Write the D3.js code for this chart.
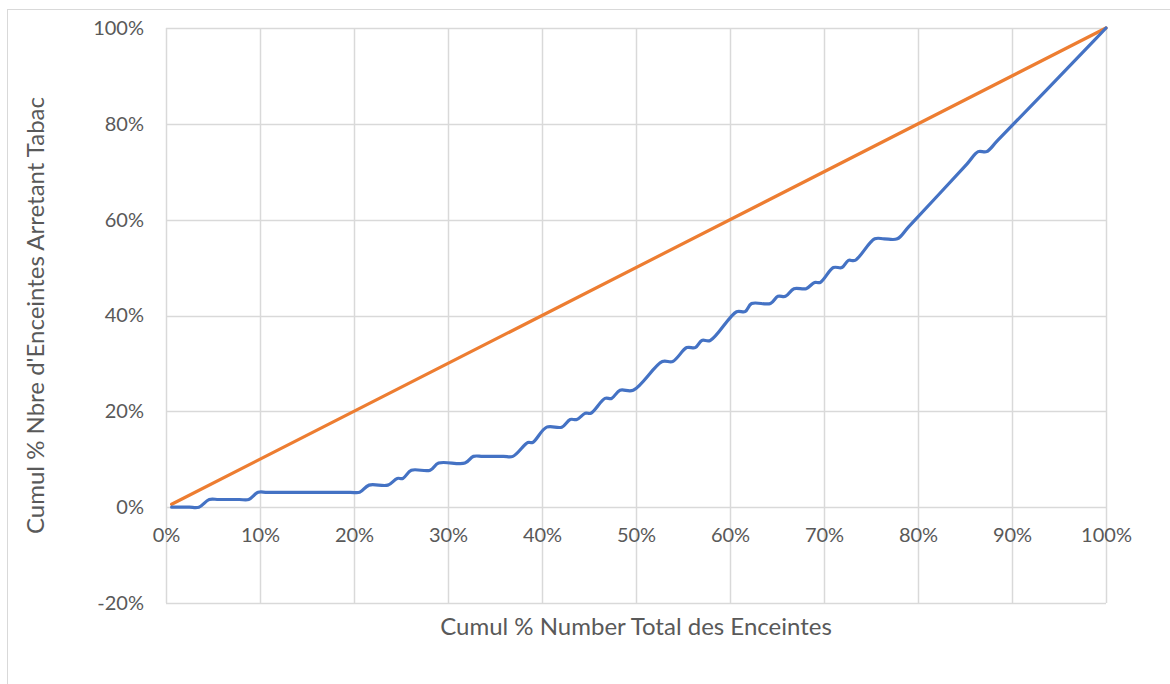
<!DOCTYPE html>
<html><head><meta charset="utf-8">
<script src="https://cdn.jsdelivr.net/npm/d3@7"></script>
<style>html,body{margin:0;padding:0;background:#fff;}svg{display:block;}</style>
</head><body>
<svg id="chart" width="1170" height="684"></svg>
<script>
// Data (percent)
const blueX = [0.6, 1.5, 2.5, 3.5, 4.6, 5.6, 7.8, 8.8, 9.8, 10.8, 19.6, 20.6, 21.6, 23.6, 24.6, 25.2, 26.1, 28.1, 29.0, 31.8, 32.7, 33.7, 35.9, 36.9, 38.5, 39.0, 40.5, 42.1, 43.0, 43.7, 44.6, 45.2, 46.7, 47.4, 48.3, 49.7, 52.8, 53.9, 55.4, 56.3, 57.0, 57.9, 60.7, 61.6, 62.3, 64.3, 65.1, 65.9, 66.8, 68.1, 69.0, 69.6, 71.0, 71.9, 72.6, 73.3, 75.4, 76.4, 77.8, 79.0, 85.2, 86.4, 87.3, 88.5, 98.8, 100];
const blueY = [0, 0, 0, 0, 1.6, 1.6, 1.6, 1.6, 3.1, 3.1, 3.1, 3.1, 4.6, 4.6, 6.0, 6.0, 7.7, 7.7, 9.2, 9.2, 10.6, 10.6, 10.6, 10.6, 13.5, 13.5, 16.7, 16.7, 18.3, 18.3, 19.6, 19.6, 22.7, 22.7, 24.4, 24.4, 30.4, 30.4, 33.3, 33.3, 34.8, 34.8, 40.8, 40.8, 42.5, 42.5, 44.0, 44.0, 45.6, 45.6, 46.9, 46.9, 50.0, 50.0, 51.5, 51.5, 56.0, 56.0, 56.0, 58.5, 71.6, 74.2, 74.2, 76.6, 97.5, 100];
const orangeX = [0.6, 100];
const orangeY = [0.6, 100];
const xTicks = [0, 10, 20, 30, 40, 50, 60, 70, 80, 90, 100];
const yTicks = [-20, 0, 20, 40, 60, 80, 100];
const xTitle = "Cumul % Number Total des Enceintes";
const yTitle = "Cumul % Nbre d'Enceintes Arretant Tabac";

const svg = d3.select("#chart");
const L = 166, R = 1106, T = 28, B = 603;
const x = d3.scaleLinear().domain([0, 100]).range([L, R]);
const y = d3.scaleLinear().domain([-20, 100]).range([B, T]);
const font = "Lato, 'Noto Sans', sans-serif";
const textColor = "#595959";
const grid = "#D9D9D9";

// outer chart border
svg.append("rect").attr("x", 7.5).attr("y", 9.5).attr("width", 1200).attr("height", 720)
  .attr("fill", "none").attr("stroke", grid).attr("stroke-width", 1);

// gridlines
svg.append("g").selectAll("line").data(yTicks).join("line")
  .attr("x1", L).attr("x2", R).attr("y1", d => Math.round(y(d)) + 0.5).attr("y2", d => Math.round(y(d)) + 0.5)
  .attr("stroke", grid).attr("stroke-width", 1.5);
svg.append("g").selectAll("line").data(xTicks).join("line")
  .attr("y1", T).attr("y2", B).attr("x1", d => Math.round(x(d)) + 0.5).attr("x2", d => Math.round(x(d)) + 0.5)
  .attr("stroke", grid).attr("stroke-width", 1.5);

// axes labels using d3 axes
const yAxis = d3.axisLeft(y).tickValues(yTicks).tickFormat(d => d + "%").tickSize(0).tickPadding(22);
const gy = svg.append("g").attr("transform", `translate(${L},0)`).call(yAxis);
gy.select(".domain").remove();
gy.selectAll("text").attr("font-family", font).attr("font-size", 20).attr("fill", textColor);

const xAxis = d3.axisBottom(x).tickValues(xTicks).tickFormat(d => d + "%").tickSize(0).tickPadding(21);
const gx = svg.append("g").attr("transform", `translate(0,${y(0)})`).call(xAxis);
gx.select(".domain").remove();
gx.selectAll("text").attr("font-family", font).attr("font-size", 20).attr("fill", textColor);

// titles
svg.append("text").attr("x", (L + R) / 2).attr("y", 635).attr("text-anchor", "middle")
  .attr("font-family", font).attr("font-size", 24).attr("fill", textColor).text(xTitle);
svg.append("text").attr("transform", `translate(44,${(T + B) / 2}) rotate(-90)`).attr("text-anchor", "middle")
  .attr("font-family", font).attr("font-size", 24).attr("fill", textColor).text(yTitle);

// lines
const line = d3.line().x(d => x(d[0])).y(d => y(d[1])).curve(d3.curveCatmullRom.alpha(0.5));
svg.append("path").datum(orangeX.map((v, i) => [v, orangeY[i]]))
  .attr("d", line).attr("fill", "none").attr("stroke", "#ED7D31").attr("stroke-width", 3.2).attr("stroke-linecap", "round");
svg.append("path").datum(blueX.map((v, i) => [v, blueY[i]]))
  .attr("d", line).attr("fill", "none").attr("stroke", "#4472C4").attr("stroke-width", 3.2)
  .attr("stroke-linecap", "round").attr("stroke-linejoin", "round");
</script>
</body></html>
